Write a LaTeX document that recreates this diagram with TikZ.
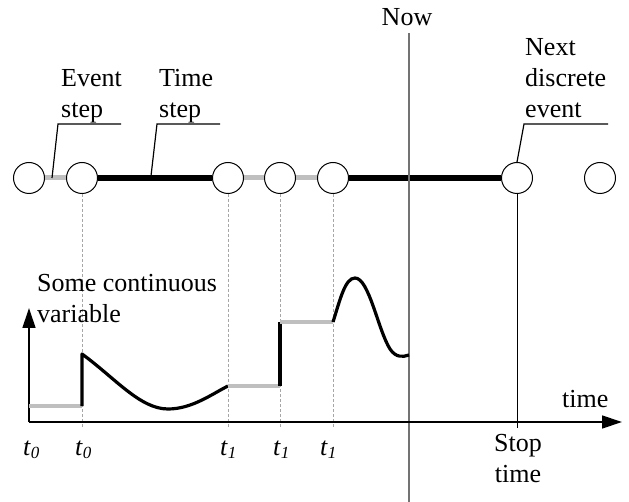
\documentclass[tikz,border=0pt]{standalone}
\usepackage{fontspec}
\setmainfont{Liberation Serif}
\usetikzlibrary{arrows.meta}
\newcommand\tlabel[2]{\textit{#1}\raisebox{-0.3ex}{\fontsize{17}{17}\selectfont\textit{#2}}}
\begin{document}
\begin{tikzpicture}[x=1pt,y=-1pt,
  every node/.style={font=\fontsize{26}{31}\selectfont, inner sep=0pt},
  ev/.style={circle, draw, line width=1pt, fill=white, minimum size=31pt},
  eventstep/.style={line width=5pt, draw=black!25},
  timestep/.style={line width=6pt, draw=black},
  leader/.style={line width=1.2pt},
  guide/.style={line width=0.5pt, draw=black!35, dash pattern=on 3pt off 2pt},
  axis/.style={line width=1.3pt, -{Triangle[length=20pt,width=13pt]}},
  curve/.style={line width=3.2pt, line join=round},
  level/.style={line width=3.5pt, draw=black!25},
  lbl/.style={anchor=base west, align=left}]
\useasboundingbox (0,0) rectangle (629,502);

% time line of events
\node[ev] (c1) at (29,178) {};
\node[ev] (c2) at (82,178) {};
\node[ev] (c3) at (228,178) {};
\node[ev] (c4) at (280,178) {};
\node[ev] (c5) at (333,178) {};
\node[ev] (c6) at (517,178) {};
\node[ev] (c7) at (600,178) {};

\draw[eventstep] (c1) -- (c2);
\draw[timestep] (c2) -- (c3);
\draw[eventstep] (c3) -- (c4);
\draw[eventstep] (c4) -- (c5);
\draw[timestep] (c5) -- (c6);

% current time
\coordinate (nowtop) at (409,33);
\coordinate (nowbot) at (409,502);
\draw[line width=1.3pt, draw=black!55] (nowtop) -- (nowbot);
\node[anchor=base] (now) at (407,26) {Now};

% stop time
\coordinate (stopend) at (517,428);
\draw[line width=1pt] (c6.south) -- (stopend);

% guides from events down to the axis
\coordinate (g2) at (82,428);
\coordinate (g3) at (228,428);
\coordinate (g4) at (280,428);
\coordinate (g5) at (333,428);
\draw[guide] (c2.south) -- (g2);
\draw[guide] (c3.south) -- (g3);
\draw[guide] (c4.south) -- (g4);
\draw[guide] (c5.south) -- (g5);

% labels with leaders (base anchor sits on the last line)
\node[lbl] (evtxt) at (61,118) {Event\\step};
\coordinate (evfoot) at (52,178);
\coordinate (evknee) at (58,124);
\coordinate (evend) at (121,124);
\draw[leader] (evfoot) -- (evknee) -- (evend);

\node[lbl] (tstxt) at (159,118) {Time\\step};
\coordinate (tsfoot) at (151,176);
\coordinate (tsknee) at (157,124);
\coordinate (tsend) at (220,124);
\draw[leader] (tsfoot) -- (tsknee) -- (tsend);

\node[lbl] (nxtxt) at (525,118) {Next\\discrete\\event};
\coordinate (nxknee) at (524,124);
\coordinate (nxend) at (608,124);
\draw[leader] (c6.north) -- (nxknee) -- (nxend);

% axes
\coordinate (origin) at (29,422);
\coordinate (yend) at (29,308);
\coordinate (xend) at (622,422);
\draw[axis] (origin) -- (yend);
\draw[axis] (origin) -- (xend);
\node[lbl] (vartxt) at (37,323) {Some continuous\\variable};
\node[anchor=base west] (timetxt) at (562,407) {time};
\node[anchor=base, align=center] (stoptxt) at (518,482) {Stop\\time};

% tick labels
\node[anchor=base west] (l1) at (23,455) {\tlabel{t}{0}};
\node[anchor=base west] (l2) at (75,455) {\tlabel{t}{0}};
\node[anchor=base west] (l3) at (220,455) {\tlabel{t}{1}};
\node[anchor=base west] (l4) at (273,455) {\tlabel{t}{1}};
\node[anchor=base west] (l5) at (320,455) {\tlabel{t}{1}};

% continuous variable
\draw[level] (29,406) -- (82,406);
\draw[curve] (82,406) -- (82,354)
  .. controls (115,378) and (140,409) .. (168,409)
  .. controls (192,409) and (212,394) .. (228,386);
\draw[level] (228,386) -- (280,386);
\draw[curve] (280,386) -- (280,322);
\draw[level] (280,322) -- (333,322);
\draw[curve] (333,322)
  .. controls (340,300) and (345,278) .. (355,278)
  .. controls (369,278) and (378,330) .. (390,349)
  .. controls (396,358) and (403,357) .. (409,355);
\end{tikzpicture}
\end{document}
